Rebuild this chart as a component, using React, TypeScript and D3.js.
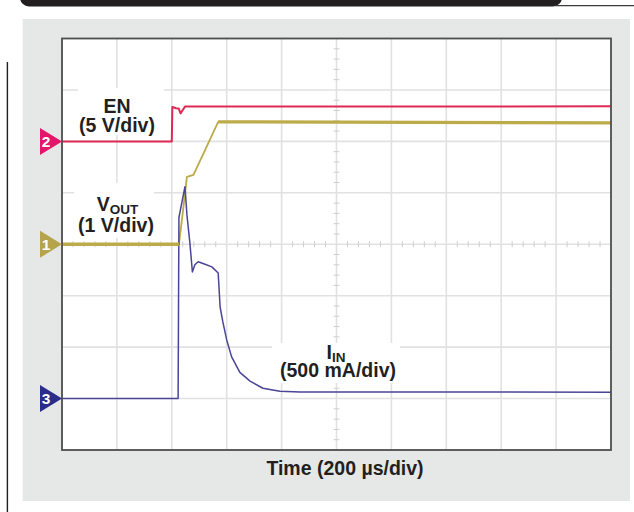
import React from "react";
import * as d3 from "d3";

// Time axis: 10 divisions at 200 µs/div
const timeDomain = [0, 2000];
const divDomain = [-4, 4];
const xDivs = d3.range(0, 11);
const yDivs = d3.range(-4, 5);

// Channel 2: EN (5 V/div), marker at +2 div
const enT = [0, 400, 402, 415, 425, 432, 440, 448, 1200, 2000];
const enV = [0, 0, 3.35, 3.22, 3.2, 2.72, 3.05, 3.38, 3.38, 3.42];

// Channel 1: VOUT (1 V/div), marker at 0 div
const voutT = [0, 426, 441, 455, 479, 569, 2000];
const voutV = [0, 0, 0.66, 1.31, 1.35, 2.38, 2.36];

// Channel 3: IIN (500 mA/div), marker at -3 div
const iinT = [0, 423, 425, 426, 448, 455, 466, 475, 484, 496, 521, 546, 569, 576, 586, 600, 618, 648, 685, 732, 794, 867, 2000];
const iinMA = [0, 0, 1200, 1760, 2060, 1790, 1510, 1230, 1300, 1330, 1305, 1280, 1220, 890, 745, 570, 405, 255, 170, 100, 70, 64, 62];

const channels = [
  { id: "2", offset: 2, scale: 5, t: enT, v: enV, color: "#dc2a55", marker: "#e5156b", width: 2 },
  { id: "1", offset: 0, scale: 1, t: voutT, v: voutV, color: "#bcab48", marker: "#b5a44c", width: 1.8 },
  { id: "3", offset: -3, scale: 500, t: iinT, v: iinMA, color: "#4a4596", marker: "#2b2d8c", width: 1.5 },
];

const FONT = "'Liberation Sans', Arial, Helvetica, sans-serif";

export default function App() {
  const W = 634, H = 512;
  const x = d3.scaleLinear().domain(timeDomain).range([62, 611]);
  const y = d3.scaleLinear().domain(divDomain).range([450, 38.5]);
  const left = x(0), right = x(2000), top = y(4), bottom = y(-4);
  const cx = x(1000), cy = y(0);
  const xDivW = (right - left) / 10;
  const yDivH = (bottom - top) / 8;
  const minorX = d3.range(1, 50).filter((i) => i % 5 !== 0).map((i) => left + (i * xDivW) / 5);
  const minorY = d3.range(1, 40).filter((i) => i % 5 !== 0).map((i) => top + (i * yDivH) / 5);

  type Ch = typeof channels[number];
  const lineFor = (ch: Ch, from = 0, to = ch.v.length) => {
    const idx = d3.range(from, to);
    return (
      d3
        .line<number>()
        .x((i) => x(ch.t[i]))
        .y((i) => y(ch.offset + ch.v[i] / ch.scale))(idx) || ""
    );
  };

  const vout = channels[1];
  const nV = vout.v.length;

  return (
    <svg width={W} height={H} style={{ position: "absolute", left: 0, top: 0 }} fontFamily={FONT}>
      <rect x={0} y={0} width={W} height={H} fill="#ffffff" />
      {/* header bar */}
      <rect x={20} y={-12} width={542} height={18.5} rx={9} fill="#231f20" />
      <line x1={555} x2={634} y1={5.6} y2={5.6} stroke="#3a3a3a" strokeWidth={1.3} />
      {/* left rule */}
      <line x1={7.4} x2={7.4} y1={62} y2={512} stroke="#231f20" strokeWidth={1.4} />
      {/* panel */}
      <rect x={22.7} y={19} width={607.3} height={482} fill="#e6e7e7" />
      <rect x={left} y={top} width={right - left} height={bottom - top} fill="#ffffff" />
      {/* grid */}
      <g stroke="#e1e1e1" strokeWidth={1.6}>
        {xDivs.slice(1, 10).map((d) => (
          <line key={"gx" + d} x1={left + d * xDivW} x2={left + d * xDivW} y1={top} y2={bottom} />
        ))}
        {yDivs.slice(1, 8).map((d) => (
          <line key={"gy" + d} x1={left} x2={right} y1={y(d)} y2={y(d)} />
        ))}
      </g>
      <g stroke="#cfcfcf" strokeWidth={1}>
        {minorX.map((p, i) => (
          <line key={"mx" + i} x1={p} x2={p} y1={cy - 3} y2={cy + 3} />
        ))}
        {minorY.map((p, i) => (
          <line key={"my" + i} x1={cx - 3} x2={cx + 3} y1={p} y2={p} />
        ))}
      </g>
      {/* label backgrounds */}
      <g fill="#ffffff">
        <rect x={78} y={88} width={86} height={47} />
        <rect x={74} y={183} width={80} height={55} />
        <rect x={272} y={343} width={128} height={40} />
      </g>
      {/* traces */}
      {channels.map((ch) => (
        <path key={"tr" + ch.id} d={lineFor(ch)} fill="none" stroke={ch.color} strokeWidth={ch.width} strokeLinejoin="round" />
      ))}
      {/* thick settled segments of VOUT */}
      <path d={lineFor(vout, 0, 2)} fill="none" stroke={vout.color} strokeWidth={3.4} />
      <path d={lineFor(vout, nV - 2, nV)} fill="none" stroke={vout.color} strokeWidth={3.2} />
      {/* frame */}
      <rect x={left} y={top} width={right - left} height={bottom - top} fill="none" stroke="#4d4d4d" strokeWidth={1.8} />
      {/* channel markers */}
      {channels.map((ch) => {
        const my = y(ch.offset);
        return (
          <g key={"mk" + ch.id}>
            <path d={`M${left - 22},${my - 13.5} L${left},${my} L${left - 22},${my + 13.5} Z`} fill={ch.marker} />
            <text x={left - 16} y={my + 5.5} textAnchor="middle" fontSize={15.5} fontWeight="bold" fill="#ffffff">
              {ch.id}
            </text>
          </g>
        );
      })}
      {/* labels */}
      <g fill="#231f20" fontWeight="bold" textAnchor="middle">
        <text x={117} y={113} fontSize={19.5}>EN</text>
        <text x={117} y={131.5} fontSize={19.5}>(5 V/div)</text>
        <text x={117.5} y={210.5} fontSize={19.5}>
          V<tspan fontSize={13.5} dy={3.5}>OUT</tspan>
        </text>
        <text x={116} y={232} fontSize={19.5}>(1 V/div)</text>
        <text x={336} y={358.5} fontSize={19.5}>
          I<tspan fontSize={13.5} dy={3.5}>IN</tspan>
        </text>
        <text x={338} y={377} fontSize={19.5}>(500 mA/div)</text>
        <text x={345} y={475} fontSize={19.5}>Time (200 µs/div)</text>
      </g>
    </svg>
  );
}
